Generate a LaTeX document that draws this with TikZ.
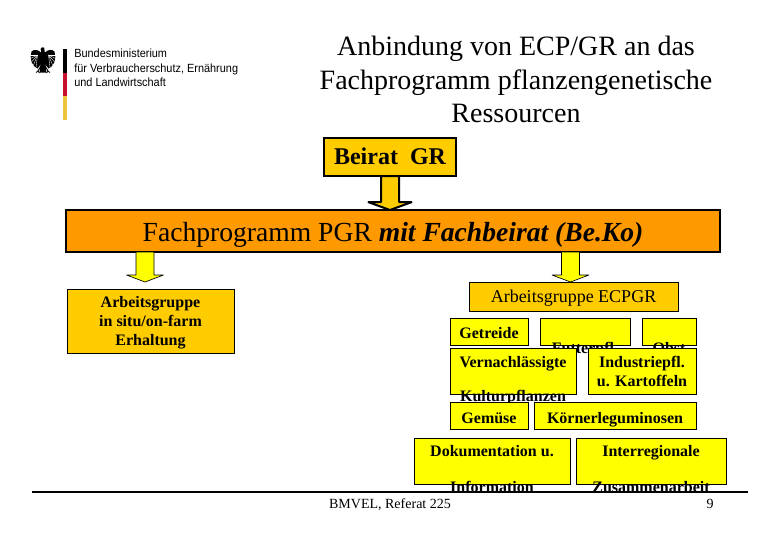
\documentclass[tikz,border=0pt]{standalone}
\usepackage{fontspec}
\setmainfont{Liberation Serif}
\newfontfamily\logofont[FakeStretch=0.92]{Liberation Sans}
\usetikzlibrary{calc}
\definecolor{cgold}{HTML}{FFCC00}
\definecolor{corange}{HTML}{FF9900}
\definecolor{cyellow}{HTML}{FFFF00}
\definecolor{cflagred}{HTML}{C8102E}
\definecolor{cflaggold}{HTML}{EBC63C}
\tikzset{
  wd/.style={minimum width=#1*0.75pt},
  ht/.style={minimum height=#1*0.75pt},
  tht/.style={text height=#1, text depth=0pt},
  sbox/.style={draw=black, fill=#1, line width=0.75pt, inner sep=0pt, outer sep=0pt, align=center,
               font=\fontsize{12}{14.25}\selectfont\bfseries},
  hbox/.style={draw=black, fill=#1, line width=1.5pt, inner sep=0pt, outer sep=0pt, align=center},
  lbl/.style={inner sep=0pt, anchor=base, align=center, font=\fontsize{12}{14.25}\selectfont\bfseries},
  footer/.style={inner sep=0pt, anchor=base, font=\fontsize{10.5}{12}\selectfont},
  logotext/.style={inner sep=0pt, anchor=base west, font=\fontsize{8.9}{10}\selectfont\logofont},
  blockarrow/.style={draw=black, fill=#1, line join=bevel, to path={
    ($(\tikztostart)+(-\shaft,0)$) -- ($(\tikztotarget)+(-\shaft,-\headlen)$)
    -- ($(\tikztotarget)+(-\headw,-\headlen)$) -- (\tikztotarget)
    -- ($(\tikztotarget)+(\headw,-\headlen)$) -- ($(\tikztotarget)+(\shaft,-\headlen)$)
    -- ($(\tikztostart)+(\shaft,0)$) -- cycle}},
}
\begin{document}
\begin{tikzpicture}[x=0.75pt, y=-0.75pt]
\useasboundingbox (0,0) rectangle (780,540);
\def\shaft{9}

% logo: eagle, flag bar and ministry name
\foreach \s in {-1,1} {
  \fill[black] (43+\s*2,52.5) .. controls (43+\s*5,49.5) and (43+\s*9,49) .. (43+\s*11.5,51.5)
    -- (43+\s*12.3,57) -- (43+\s*11.5,62) -- (43+\s*8.5,66.5) -- (43+\s*5.5,68.5) -- (43+\s*2,64) -- cycle;
  \foreach \tx/\ty in {12.5/55, 12.5/58.5, 11.5/62, 9.5/65, 7/67.5}
    \draw[white, line width=0.25pt] (43+\s*5.5,55) -- (43+\s*\tx,\ty);
  \draw[black, line width=0.7pt] (43+\s*1.5,65) -- (43+\s*5,71);
  \draw[black, line width=0.6pt] (43+\s*5,71) -- (43+\s*7,72.5) (43+\s*5,71) -- (43+\s*3.5,73);
}
\fill[black] (41.3,52) -- (40.6,49) -- (42,47.3) -- (44.2,47.6) -- (44.7,52) -- (46.5,56) -- (45.5,65)
  -- (46.5,72.5) -- (39.5,72.5) -- (40.5,65) -- (39.5,56) -- cycle;
\fill[black] (63,49) rectangle (67,73);
\fill[cflagred] (63,73) rectangle (67,96);
\fill[cflaggold] (63,96) rectangle (67,120);
\node[logotext] (logoa) at (74,57) {Bundesministerium};
\node[logotext] (logob) at (74,72) {für Verbraucherschutz, Ernährung};
\node[logotext] (logoc) at (74,86) {und Landwirtschaft};

% title
\node[inner sep=0pt, align=center, font=\fontsize{21}{25}\selectfont] (title) at (516,79.5)
  {Anbindung von ECP/GR an das\\Fachprogramm pflanzengenetische\\Ressourcen};

% top boxes
\node[hbox=cgold, wd=132, ht=38, tht=11pt, font=\fontsize{18}{21}\selectfont\bfseries] (beirat) at (390,157) {Beirat\ \ GR};
\node[hbox=corange, wd=654, ht=42, tht=16pt, font=\fontsize{20.7}{24}\selectfont] (fach) at (393,231)
  {Fachprogramm PGR \textbf{\textit{mit Fachbeirat (Be.Ko)}}};
\def\headw{22}\def\headlen{8}
\draw[blockarrow=cgold, line width=1.5pt] (beirat.south) to (beirat.south |- fach.north);

% lower arrows
\def\headw{18.5}\def\headlen{7}
\coordinate (situtip) at (145,282);
\coordinate (ecptip) at (570.5,282);
\draw[blockarrow=cyellow, line width=0.5pt] (fach.south -| situtip) to (situtip);
\draw[blockarrow=cyellow, line width=0.5pt] (fach.south -| ecptip) to (ecptip);

% working groups
\node[sbox=cgold, wd=167, ht=64] (situ) at (150.5,321) {};
\node[lbl] (situlbl) at (150.5,345) {Arbeitsgruppe\\in situ/on-farm\\Erhaltung};
\node[sbox=cgold, wd=209, ht=29, tht=8.5pt, font=\fontsize{13.5}{16}\selectfont] (ecp) at (573.5,297) {Arbeitsgruppe ECPGR};

% crop groups, later boxes lie over the text of the earlier ones
\node[sbox=cyellow, wd=78, ht=27, tht=9.8pt] (getreide) at (489,331.5) {Getreide};
\node[sbox=cyellow, wd=90, ht=27] (futter) at (585,331.5) {};
\node[lbl] (futterlbl) at (585,353) {Futterpfl.};
\node[sbox=cyellow, wd=54, ht=27] (obst) at (669,331.5) {};
\node[lbl] (obstlbl) at (669,353) {Obst};
\node[sbox=cyellow, wd=126, ht=46] (vernach) at (513,371) {};
\node[lbl] (vernachlbl) at (513,367) {Vernachlässigte};
\node[lbl] (kulturlbl) at (513,401) {Kulturpflanzen};
\node[sbox=cyellow, wd=108, ht=46] (indust) at (642,371) {Industriepfl.\\u. Kartoffeln};
\node[sbox=cyellow, wd=78, ht=27, tht=11.7pt] (gemuese) at (489,415.5) {Gemüse};
\node[sbox=cyellow, wd=162, ht=27, tht=11.7pt] (koerner) at (615,415.5) {Körnerleguminosen};
\node[sbox=cyellow, wd=156, ht=46] (doku) at (492,461) {};
\node[lbl] (dokulbl) at (492,456.5) {Dokumentation u.};
\node[lbl] (infolbl) at (492,492) {Information};
\node[sbox=cyellow, wd=150, ht=46] (inter) at (651,461) {};
\node[lbl] (interlbl) at (651,456.5) {Interregionale};
\node[lbl] (zusamlbl) at (651,492) {Zusammenarbeit};

% footer
\coordinate (ruleleft) at (32,492);
\coordinate (ruleright) at (748,492);
\draw[black, line width=1.5pt] (ruleleft) -- (ruleright);
\node[footer] (source) at (390,508) {BMVEL, Referat 225};
\node[footer] (pageno) at (710,508) {9};
\end{tikzpicture}
\end{document}
